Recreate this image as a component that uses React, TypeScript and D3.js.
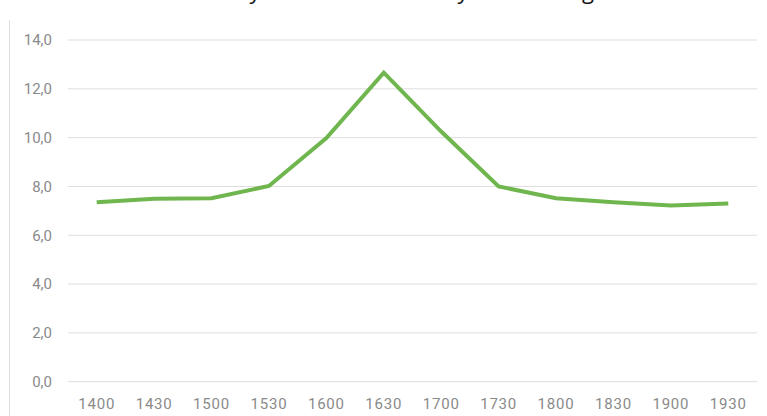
import React from 'react';
import * as d3 from 'd3';

// chart size
const svgWidth = 767;
const svgHeight = 416;
const plotLeft = 68;   // where gridlines start
const plotRight = 757; // where gridlines end
const plotTop = 40;    // y of the top tick (14,0)
const plotBottom = 381.7; // y of 0,0

const lineColor = '#70b64f';
const gridColor = '#dedede';
const labelColor = '#8a8a8a';

// data
const hours = ['1400', '1430', '1500', '1530', '1600', '1630', '1700', '1730', '1800', '1830', '1900', '1930'];
const values = [7.35, 7.5, 7.52, 8.02, 9.98, 12.66, 10.25, 8.0, 7.52, 7.35, 7.22, 7.3];
const yTicks = [0, 2, 4, 6, 8, 10, 12, 14];
const title = 'Hourly travel time in car by the evening';

const xScale = d3.scalePoint<string>()
  .domain(hours)
  .range([plotLeft, plotRight])
  .padding(0.5);

const yScale = d3.scaleLinear()
  .domain([0, 14])
  .range([plotBottom, plotTop]);

const fmt = (v: number) => v.toFixed(1).replace('.', ',');

export default function App() {
  const line = d3.line<number>()
    .x((d, i) => xScale(hours[i]) as number)
    .y(d => yScale(d));

  return (
    <svg width={svgWidth} height={svgHeight}
      style={{ position: 'absolute', left: 0, top: 0, background: '#fff' }}>
      {/* title, mostly above the visible area (only descenders show) */}
      <text x={393} y={-1} textAnchor="middle" fontFamily="'Open Sans', sans-serif"
        fontSize={22} fill="#111">{title}</text>

      {/* left border */}
      <line x1={9.5} x2={9.5} y1={20} y2={svgHeight} stroke={gridColor} strokeWidth={1} />

      {/* gridlines and y labels */}
      {yTicks.map(t => (
        <g key={t}>
          <line x1={plotLeft} x2={plotRight} y1={yScale(t)} y2={yScale(t)}
            stroke={gridColor} strokeWidth={1} />
          <text x={52} y={yScale(t)} dy="0.35em" textAnchor="end"
            fontFamily="Roboto, sans-serif" fontSize={15} fill={labelColor}>{fmt(t)}</text>
        </g>
      ))}

      {/* x labels */}
      {hours.map(h => (
        <text key={h} x={xScale(h)} y={408.5} textAnchor="middle" letterSpacing={0.8}
          fontFamily="Roboto, sans-serif" fontSize={15} fill={labelColor}>{h}</text>
      ))}

      <path d={line(values) || ''} fill="none" stroke={lineColor} strokeWidth={4}
        strokeLinejoin="miter" />
    </svg>
  );
}
